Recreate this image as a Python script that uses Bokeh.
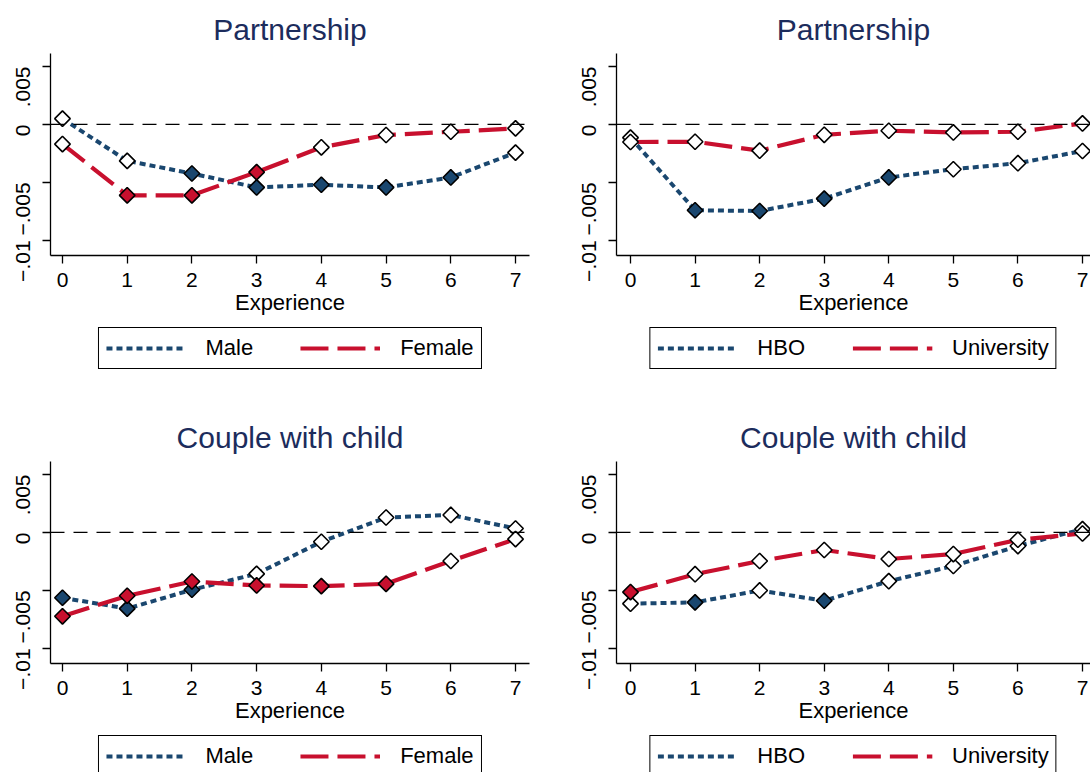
import math

from bokeh.embed import file_html
from bokeh.layouts import column, row
from bokeh.models import (ColumnDataSource, FixedTicker, Legend, LegendItem,
                          Range1d, Span)
from bokeh.plotting import figure
from bokeh.resources import INLINE

# ---------------------------------------------------------------- data
experience = [0, 1, 2, 3, 4, 5, 6, 7]
y_ticks = [-0.01, -0.005, 0, 0.005]
y_tick_labels = {-0.01: "\u2212.01", -0.005: "\u2212.005", 0: "0", 0.005: ".005"}

# Partnership, by gender
part_male = [0.0005, -0.00314, -0.00423, -0.00543, -0.0052, -0.00543, -0.00457, -0.00243]
part_male_sig = [0, 0, 1, 1, 1, 1, 1, 0]
part_female = [-0.00169, -0.00611, -0.00611, -0.00411, -0.00197, -0.00091, -0.00063, -0.00034]
part_female_sig = [0, 1, 1, 1, 0, 0, 0, 0]

# Partnership, by education
part_hbo = [-0.00114, -0.0074, -0.00746, -0.0064, -0.00457, -0.00386, -0.00334, -0.00229]
part_hbo_sig = [0, 1, 1, 1, 1, 0, 0, 0]
part_univ = [-0.00151, -0.00149, -0.00226, -0.00089, -0.00054, -0.00069, -0.00063, 0.00009]
part_univ_sig = [0, 0, 0, 0, 0, 0, 0, 0]

# Couple with child, by gender
child_male = [-0.00563, -0.00657, -0.00494, -0.00357, -0.0008, 0.00129, 0.00151, 0.00034]
child_male_sig = [1, 1, 1, 0, 0, 0, 0, 0]
child_female = [-0.00723, -0.00546, -0.00423, -0.00457, -0.00463, -0.00443, -0.00246, -0.00057]
child_female_sig = [1, 1, 1, 1, 1, 1, 0, 0]

# Couple with child, by education
child_hbo = [-0.00614, -0.00603, -0.005, -0.00589, -0.0042, -0.00289, -0.00117, 0.00029]
child_hbo_sig = [0, 1, 0, 1, 0, 0, 0, 0]
child_univ = [-0.00514, -0.0036, -0.00246, -0.00151, -0.00229, -0.00186, -0.00063, -0.00009]
child_univ_sig = [1, 0, 0, 0, 0, 0, 0, 0]

# ---------------------------------------------------------------- style
BLUE = "#1a476f"
RED = "#c8102e"
TITLE_COLOR = "#1c2c5c"
FONT = "Liberation Sans"
STYLES = [(BLUE, "6 4", 4), (RED, "28 9", 4.2)]

MAIN_H = 322


def panel(title, labels, series, sigs, left_col, top_row):
    width = 568 if left_col else 522
    b_left = 50 if left_col else 48
    b_right = 39 if left_col else 0
    x_range = Range1d(-0.185, 7.216) if left_col else Range1d(-0.217, 7.124)

    p = figure(width=width, height=MAIN_H, x_range=x_range,
               y_range=Range1d(-0.0113, 0.00612),
               output_backend="svg", toolbar_location=None,
               min_border_left=b_left, min_border_right=b_right,
               min_border_top=53, min_border_bottom=MAIN_H - 53 - 202)
    p.outline_line_color = None
    p.grid.visible = False
    p.border_fill_color = "white"

    p.title.text = title
    p.title.align = "center"
    p.title.text_font = FONT
    p.title.text_font_size = "30px"
    p.title.text_font_style = "normal"
    p.title.text_color = TITLE_COLOR
    p.title.standoff = 16

    xa = p.xaxis[0]
    xa.ticker = FixedTicker(ticks=experience)
    xa.axis_label = "Experience"
    ya = p.yaxis[0]
    ya.ticker = FixedTicker(ticks=y_ticks)
    ya.major_label_overrides = y_tick_labels
    ya.major_label_orientation = math.pi / 2
    for ax in (xa, ya):
        ax.axis_line_color = "black"
        ax.axis_line_width = 1.3
        ax.major_tick_line_color = "black"
        ax.major_tick_line_width = 1.3
        ax.major_tick_out = 8
        ax.major_tick_in = 0
        ax.minor_tick_line_color = None
        ax.major_label_text_font = FONT
        ax.major_label_text_font_size = "21px"
        ax.major_label_text_color = "black"
        ax.axis_label_text_font = FONT
        ax.axis_label_text_font_size = "22px"
        ax.axis_label_text_font_style = "normal"
        ax.axis_label_text_color = "black"
    xa.major_label_standoff = 9
    xa.axis_label_standoff = 0
    ya.major_label_standoff = 19

    p.add_layout(Span(location=0, dimension="width", line_color="black",
                      line_width=1.3, line_dash="14 9"))

    for (color, dash, lw), vals, sig in zip(STYLES, series, sigs):
        fills = [color if s else "white" for s in sig]
        src = ColumnDataSource(dict(x=experience, y=vals, fill=fills))
        p.line("x", "y", source=src, line_color=color, line_width=lw,
               line_dash=dash, line_cap="butt")
        p.scatter("x", "y", source=src, marker="square", size=11,
                  angle=math.pi / 4, fill_color="fill", line_color="black",
                  line_width=1.6)

    # legend strip underneath the panel; the lower row is cut by the page edge
    leg_h = 408 - MAIN_H if top_row else 364 - MAIN_H
    lf = figure(width=width, height=leg_h, x_range=Range1d(0, 1),
                y_range=Range1d(0, 1), x_axis_type=None, y_axis_type=None,
                output_backend="svg", toolbar_location=None,
                min_border_left=b_left, min_border_right=b_right,
                min_border_top=0, min_border_bottom=0)
    lf.outline_line_color = None
    lf.border_fill_color = "white"
    items = []
    for (color, dash, lw), lab in zip(STYLES, labels):
        # key-only renderer: its one segment lies outside the strip's ranges
        key = lf.line(x=[-2, -1], y=[-2, -2], line_color=color, line_width=lw,
                      line_dash=dash, line_cap="butt")
        items.append(LegendItem(label=lab, renderers=[key]))
    leg = Legend(items=items, orientation="horizontal", location="top_center")
    leg.label_text_font = FONT
    leg.label_text_font_size = "22px"
    leg.label_text_color = "black"
    leg.glyph_width = 80
    leg.glyph_height = 20
    leg.label_standoff = 20
    leg.spacing = 47
    leg.padding = 7
    leg.margin = 5
    leg.border_line_color = "black"
    leg.border_line_width = 1.5
    leg.border_line_alpha = 1
    leg.background_fill_color = "white"
    leg.background_fill_alpha = 1
    lf.add_layout(leg, "center")
    return column(p, lf)


p1 = panel("Partnership", ["Male", "Female"], [part_male, part_female],
           [part_male_sig, part_female_sig], True, True)
p2 = panel("Partnership", ["HBO", "University"], [part_hbo, part_univ],
           [part_hbo_sig, part_univ_sig], False, True)
p3 = panel("Couple with child", ["Male", "Female"], [child_male, child_female],
           [child_male_sig, child_female_sig], True, False)
p4 = panel("Couple with child", ["HBO", "University"], [child_hbo, child_univ],
           [child_hbo_sig, child_univ_sig], False, False)

layout = column(row(p1, p2), row(p3, p4))

with open("out.html", "w") as f:
    f.write(file_html(layout, INLINE))
